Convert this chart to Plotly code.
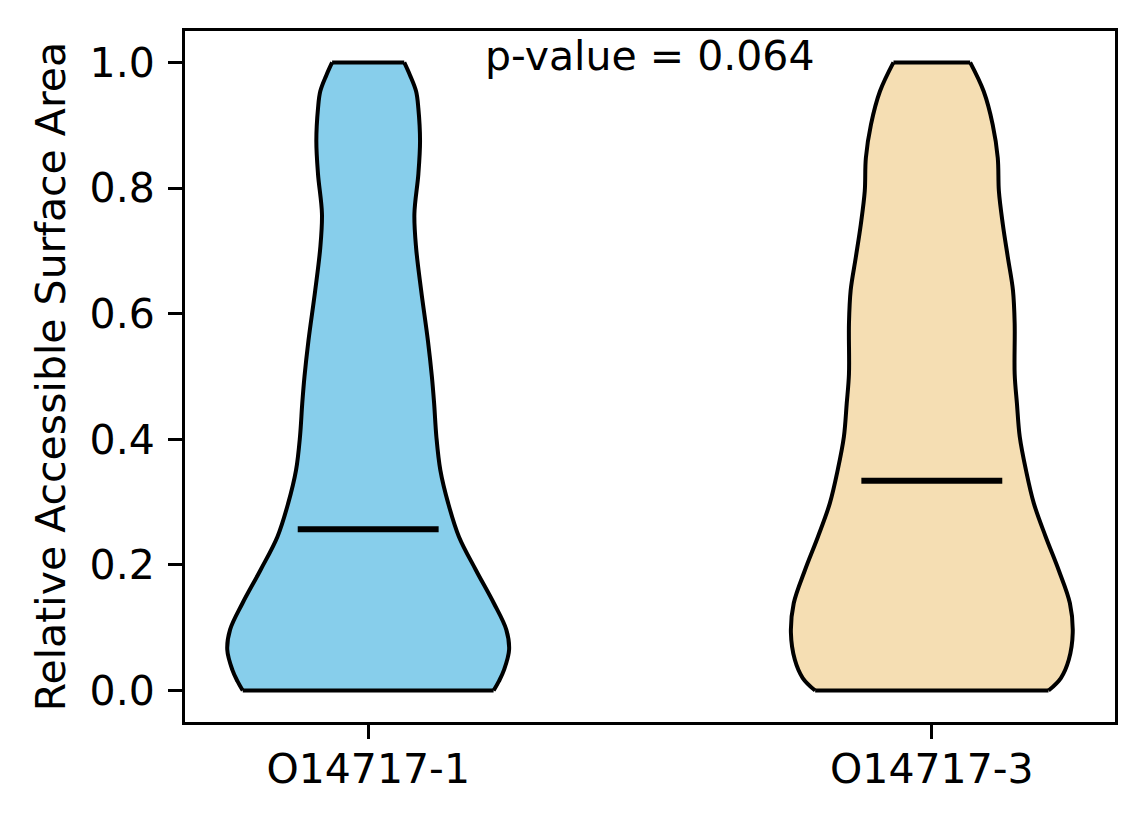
import plotly.graph_objects as go

# violin outlines: height level -> half width (x units)
names = ["O14717-1", "O14717-3"]
positions = [1, 2]
colors = ["#87CEEB", "#F5DEB3"]

v1_levels = [0, 0.015, 0.033, 0.065, 0.097, 0.139, 0.192, 0.245, 0.298, 0.351, 0.404,
             0.457, 0.50, 0.557, 0.637, 0.705, 0.759, 0.822, 0.875, 0.927, 0.954, 0.98, 1.0]
v1_half = [0.2225, 0.232, 0.241, 0.250, 0.245, 0.223, 0.191, 0.161, 0.142, 0.128, 0.121,
           0.117, 0.113, 0.106, 0.094, 0.085, 0.082, 0.089, 0.092, 0.089, 0.085, 0.074, 0.064]

v2_levels = [0, 0.02, 0.049, 0.092, 0.139, 0.192, 0.245, 0.298, 0.351, 0.404, 0.457,
             0.504, 0.584, 0.637, 0.689, 0.742, 0.795, 0.848, 0.901, 0.954, 1.0]
v2_half = [0.207, 0.229, 0.243, 0.250, 0.245, 0.225, 0.202, 0.181, 0.167, 0.156, 0.151,
           0.147, 0.147, 0.144, 0.135, 0.126, 0.119, 0.117, 0.108, 0.092, 0.068]

medians = [0.257, 0.334]
median_half = 0.125
p_text = "p-value = 0.064"

FONT = "DejaVu Sans"
fig = go.Figure()

for pos, col, lev, hw, med in zip(positions, colors, [v1_levels, v2_levels], [v1_half, v2_half], medians):
    right = [pos + h for h in hw]
    left = [pos - h for h in hw]
    # fill body
    fig.add_trace(go.Scatter(x=right + left[::-1], y=lev + lev[::-1], mode="lines",
                             fill="toself", fillcolor=col, line=dict(width=0),
                             showlegend=False, hoverinfo="skip"))
    # smooth sides
    for side in (right, left):
        fig.add_trace(go.Scatter(x=side, y=lev, mode="lines",
                                 line=dict(color="black", width=4, shape="spline", smoothing=1),
                                 showlegend=False, hoverinfo="skip"))
    # flat ends
    for i in (0, -1):
        fig.add_trace(go.Scatter(x=[left[i], right[i]], y=[lev[i], lev[i]], mode="lines",
                                 line=dict(color="black", width=4),
                                 showlegend=False, hoverinfo="skip"))
    # median
    fig.add_trace(go.Scatter(x=[pos - median_half, pos + median_half], y=[med, med], mode="lines",
                             line=dict(color="black", width=6),
                             showlegend=False, hoverinfo="skip"))

fig.add_annotation(text=p_text, xref="paper", x=0.5, yref="y", y=1.011,
                   xanchor="center", yanchor="middle", showarrow=False,
                   font=dict(family=FONT, size=41, color="black"))

axis_common = dict(showline=True, linecolor="black", linewidth=3, mirror=True,
                   ticks="outside", ticklen=14, tickwidth=3, tickcolor="black",
                   showgrid=False, zeroline=False, automargin=False,
                   tickfont=dict(family=FONT, size=41, color="black"))

fig.update_xaxes(range=[0.675, 2.325], tickvals=positions, ticktext=names,
                 ticklabelstandoff=-5, **axis_common)
fig.update_yaxes(range=[-0.05, 1.05], tickvals=[0, 0.2, 0.4, 0.6, 0.8, 1.0],
                 tickformat=".1f", ticklabelstandoff=5,
                 title=dict(text="Relative Accessible Surface Area", standoff=12,
                            font=dict(family=FONT, size=41, color="black")),
                 **axis_common)

# page body adds a small offset, so margins are shifted to compensate
fig.update_layout(width=1144, height=824, template="none",
                  margin=dict(l=177, r=37, t=23, b=110),
                  paper_bgcolor="white", plot_bgcolor="white",
                  font=dict(family=FONT, size=41, color="black"))

fig.write_html("out.html")
